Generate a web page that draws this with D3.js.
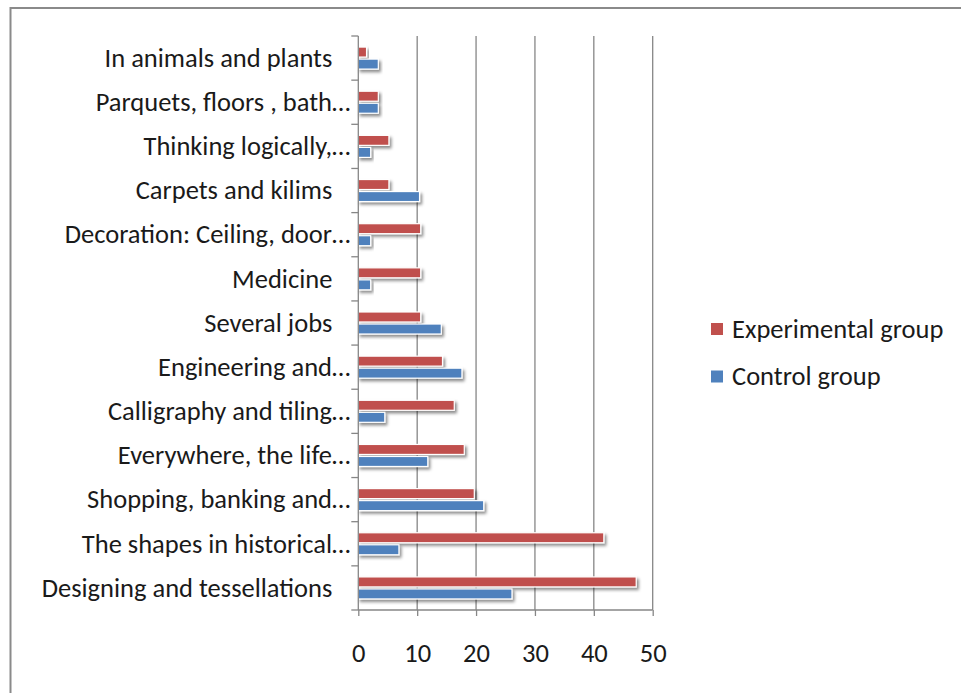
<html>
<script src="https://d3js.org/d3.v7.min.js"></script>
<style>
    body { margin: 0; background: #fff; }
    text { font-family: Carlito, "Open Sans", sans-serif; fill: #1a1a1a; }
</style>
<body>
<svg id="chart"></svg>
<script>
    // categories, top to bottom as drawn
    var categories = [
        "In animals and plants   ",
        "Parquets, floors , bath\u2026",
        "Thinking logically,\u2026",
        "Carpets and kilims   ",
        "Decoration: Ceiling, door\u2026",
        "Medicine   ",
        "Several jobs   ",
        "Engineering and\u2026",
        "Calligraphy and tiling\u2026",
        "Everywhere, the life\u2026",
        "Shopping, banking and\u2026",
        "The shapes in historical\u2026",
        "Designing and tessellations   "
    ];
    var seriesNames = ["Experimental group", "Control group"];
    var experimental = [1.4, 3.4, 5.2, 5.2, 10.6, 10.6, 10.6, 14.3, 16.3, 18.0, 19.7, 41.7, 47.2];
    var control = [3.4, 3.4, 2.1, 10.4, 2.1, 2.1, 14.1, 17.6, 4.5, 11.8, 21.3, 6.9, 26.1];
    var xTicks = [0, 10, 20, 30, 40, 50];

    var colors = { "Experimental group": "#C0504D", "Control group": "#4F81BD" };

    var W = 961, H = 693;
    var margin = { top: 36, left: 358.3, right: 308.3, bottom: 83 };
    var width = W - margin.left - margin.right,
        height = H - margin.top - margin.bottom;

    var svg = d3.select("#chart").attr("width", W).attr("height", H);

    // outer frame (only top and left edges visible)
    svg.append("path")
        .attr("d", "M10.5,700 V8 H961")
        .attr("fill", "none")
        .attr("stroke", "#8a8a8a")
        .attr("stroke-width", 2);

    var defs = svg.append("defs");
    var f = defs.append("filter").attr("id", "shadow")
        .attr("x", "-10%").attr("y", "-40%").attr("width", "130%").attr("height", "200%");
    f.append("feDropShadow")
        .attr("dx", 2).attr("dy", 2.5).attr("stdDeviation", 1.4)
        .attr("flood-color", "#000").attr("flood-opacity", 0.45);

    var g = svg.append("g")
        .attr("transform", "translate(" + margin.left + "," + margin.top + ")");

    var x = d3.scaleLinear().domain([0, 50]).range([0, width]);
    var y = d3.scaleBand().domain(categories).range([0, height]).paddingInner(0).paddingOuter(0);
    var ySub = d3.scaleBand().domain(seriesNames).range([0, y.bandwidth()])
        .paddingInner(0.17).paddingOuter(0.92);

    // vertical gridlines
    g.append("g")
        .selectAll("line")
        .data(xTicks.slice(1))
        .enter()
        .append("line")
        .attr("x1", function (d) { return x(d); })
        .attr("x2", function (d) { return x(d); })
        .attr("y1", 0)
        .attr("y2", height)
        .attr("stroke", "#868686")
        .attr("stroke-width", 1.3);

    // bars
    var rows = categories.map(function (c, i) {
        return [
            { cat: c, series: seriesNames[0], value: experimental[i] },
            { cat: c, series: seriesNames[1], value: control[i] }
        ];
    });

    g.append("g")
        .selectAll("g")
        .data(rows)
        .enter()
        .append("g")
        .attr("transform", function (d) { return "translate(0," + y(d[0].cat) + ")"; })
        .selectAll("rect")
        .data(function (d) { return d; })
        .enter()
        .append("rect")
        .attr("x", x(0))
        .attr("y", function (d) { return ySub(d.series); })
        .attr("width", function (d) { return x(d.value) - x(0); })
        .attr("height", ySub.bandwidth())
        .attr("fill", function (d) { return colors[d.series]; })
        .attr("stroke", "#fff")
        .attr("stroke-width", 1.2)
        .attr("filter", "url(#shadow)");

    // y axis: ticks at category boundaries
    var yAxis = g.append("g");
    yAxis.append("line")
        .attr("x1", 0).attr("x2", 0).attr("y1", 0).attr("y2", height)
        .attr("stroke", "#868686").attr("stroke-width", 1.3);
    yAxis.selectAll(".tk")
        .data(d3.range(categories.length + 1))
        .enter()
        .append("line")
        .attr("x1", -7).attr("x2", 0)
        .attr("y1", function (i) { return i * y.step(); })
        .attr("y2", function (i) { return i * y.step(); })
        .attr("stroke", "#868686").attr("stroke-width", 1.3);
    yAxis.selectAll("text")
        .data(categories)
        .enter()
        .append("text")
        .attr("x", -8)
        .attr("y", function (d) { return y(d) + y.bandwidth() / 2; })
        .attr("dy", "0.33em")
        .attr("text-anchor", "end")
        .style("white-space", "pre")
        .style("font-size", "26.5px")
        .text(function (d) { return d; });

    // x axis
    var xAxis = g.append("g").attr("transform", "translate(0," + height + ")")
        .call(d3.axisBottom(x).tickValues(xTicks).tickSize(6).tickPadding(27));
    xAxis.select(".domain").attr("stroke", "#868686").attr("stroke-width", 1.3)
        .attr("d", "M0,0H" + width);
    xAxis.selectAll(".tick line").attr("stroke", "#868686").attr("stroke-width", 1.3);
    xAxis.selectAll(".tick text")
        .style("font-size", "26.5px")
        .style("font-family", "Carlito, 'Open Sans', sans-serif")
        .attr("fill", "#1a1a1a");

    // legend
    var legend = svg.append("g").attr("transform", "translate(711,323)");
    var li = legend.selectAll("g")
        .data(seriesNames)
        .enter()
        .append("g")
        .attr("transform", function (d, i) { return "translate(0," + (i * 47.5) + ")"; });
    li.append("rect")
        .attr("width", 12).attr("height", 12)
        .attr("fill", function (d) { return colors[d]; });
    li.append("text")
        .attr("x", 21).attr("y", 6).attr("dy", "0.33em")
        .style("font-size", "26.5px")
        .text(function (d) { return d; });
</script>
</body>
</html>
